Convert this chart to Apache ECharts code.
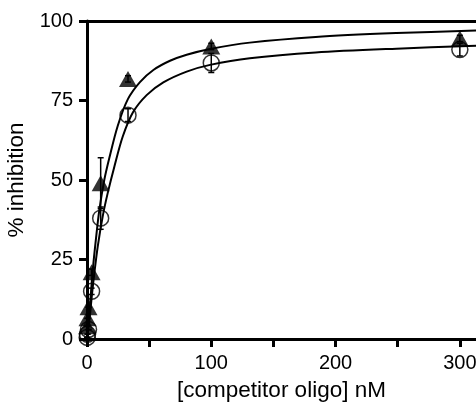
<!DOCTYPE html>
<html>
<head>
<meta charset="utf-8">
<script src="https://cdn.jsdelivr.net/npm/echarts@6/dist/echarts.min.js"></script>
<style>
  html, body { margin: 0; padding: 0; background: #fff; }
  #chart { width: 476px; height: 403px; }
</style>
</head>
<body>
<div id="chart"></div>
<script>
// Competitor oligo concentrations (nM), threefold dilution series
const concentrations = [0.14, 0.41, 1.2, 3.7, 11, 33, 100, 300];

// Measured % inhibition (mean) and error (SD) for each oligo
const triangleMean = [4, 6.5, 10, 21, 49, 81.8, 92, 94.5];
const triangleErr  = [0, 0, 0, 1, 8, 1, 1, 1];
const circleMean   = [0.5, 1.5, 3, 15, 38, 70.4, 86.8, 91];
const circleErr    = [0, 0, 0, 1, 3.5, 2, 3, 2];

// Fitted binding curves
const triangleFitX = [0, 1.2, 2.5, 4.6, 7.2, 9.9, 13.9, 18, 24.7, 33, 42.6, 53.4, 66.8, 80.2, 99, 131, 184, 249, 313];
const triangleFitY = [0, 5, 11, 21.5, 31.5, 40.5, 50, 57, 67, 75.5, 80.8, 84.6, 87.5, 89.4, 91.2, 93.2, 95.0, 96.2, 97];
const circleFitX   = [0, 1.2, 2.5, 4, 5.9, 8.6, 12.6, 16.6, 22, 28.7, 37, 48, 61.4, 80.2, 99, 131, 184, 249, 313];
const circleFitY   = [0, 3.5, 8, 14, 20.7, 29, 38.5, 45.8, 54.2, 63.6, 71.3, 76.7, 80.7, 84.1, 86.2, 88.3, 90.1, 91.3, 92.2];

// Axis ticks
const xTickLabels = [0, 100, 200, 300];
const yTicks = [0, 25, 50, 75, 100];

const FONT = 'Liberation Sans, Arial, Helvetica, sans-serif';

function zip(xs, ys) { return xs.map((x, i) => [x, ys[i]]); }
function errData(xs, m, e) {
  return xs.map((x, i) => [x, m[i] - e[i], m[i] + e[i]]);
}

function renderErrorBar(params, api) {
  const x = api.value(0);
  const lo = api.coord([x, api.value(1)]);
  const hi = api.coord([x, api.value(2)]);
  const cap = 3;
  const style = { stroke: '#000', lineWidth: 1.5, fill: null };
  return {
    type: 'group',
    children: [
      { type: 'line', shape: { x1: lo[0], y1: lo[1], x2: hi[0], y2: hi[1] }, style },
      { type: 'line', shape: { x1: hi[0] - cap, y1: hi[1], x2: hi[0] + cap, y2: hi[1] }, style },
      { type: 'line', shape: { x1: lo[0] - cap, y1: lo[1], x2: lo[0] + cap, y2: lo[1] }, style }
    ]
  };
}

const chart = echarts.init(document.getElementById('chart'), null, { renderer: 'canvas' });

const axisLine = { show: true, onZero: false, lineStyle: { color: '#000', width: 3 } };
const axisTick = { show: true, inside: false, length: 8, lineStyle: { color: '#000', width: 3 } };

chart.setOption({
  animation: false,
  backgroundColor: '#fff',
  grid: { left: 87, right: 0, top: 21, bottom: 64, containLabel: false, outerBoundsMode: 'none' },
  xAxis: [
    {
      type: 'value',
      min: 0,
      max: 313,
      interval: 50,
      position: 'bottom',
      name: '[competitor oligo] nM',
      nameLocation: 'middle',
      nameGap: 40,
      nameTextStyle: { color: '#000', fontSize: 22.5, fontFamily: FONT },
      axisLine,
      axisTick,
      splitLine: { show: false },
      axisLabel: {
        color: '#000', fontSize: 20, fontFamily: FONT, margin: 14,
        showMaxLabel: false, hideOverlap: false,
        formatter: v => (xTickLabels.indexOf(v) >= 0 ? String(v) : '')
      }
    },
    {
      type: 'value',
      min: 0,
      max: 313,
      position: 'top',
      axisLine,
      axisTick: { show: false },
      axisLabel: { show: false },
      splitLine: { show: false }
    }
  ],
  yAxis: {
    type: 'value',
    min: yTicks[0],
    max: yTicks[yTicks.length - 1],
    interval: 25,
    name: '% inhibition',
    nameLocation: 'middle',
    nameGap: 49,
    nameTextStyle: { color: '#000', fontSize: 22.5, fontFamily: FONT },
    axisLine,
    axisTick,
    splitLine: { show: false },
    axisLabel: { color: '#000', fontSize: 20, fontFamily: FONT, margin: 14 }
  },
  series: [
    {
      type: 'line', xAxisIndex: 0, smooth: 0.3, symbol: 'none', clip: false,
      lineStyle: { color: '#000', width: 2 },
      data: zip(triangleFitX, triangleFitY), z: 3
    },
    {
      type: 'line', xAxisIndex: 0, smooth: 0.3, symbol: 'none', clip: false,
      lineStyle: { color: '#000', width: 2 },
      data: zip(circleFitX, circleFitY), z: 3
    },
    {
      type: 'custom', xAxisIndex: 0, renderItem: renderErrorBar, clip: false,
      data: errData(concentrations, triangleMean, triangleErr), z: 4
    },
    {
      type: 'custom', xAxisIndex: 0, renderItem: renderErrorBar, clip: false,
      data: errData(concentrations, circleMean, circleErr), z: 4
    },
    {
      type: 'scatter', xAxisIndex: 0, symbol: 'circle', symbolSize: 16, clip: false,
      itemStyle: { color: 'rgba(0,0,0,0)', borderColor: '#000', borderWidth: 1.5 },
      data: zip(concentrations, circleMean), z: 5
    },
    {
      type: 'scatter', xAxisIndex: 0, symbol: 'triangle', symbolSize: [18, 16], clip: false,
      itemStyle: { color: '#000' },
      data: zip(concentrations, triangleMean), z: 6
    }
  ]
});
</script>
</body>
</html>
